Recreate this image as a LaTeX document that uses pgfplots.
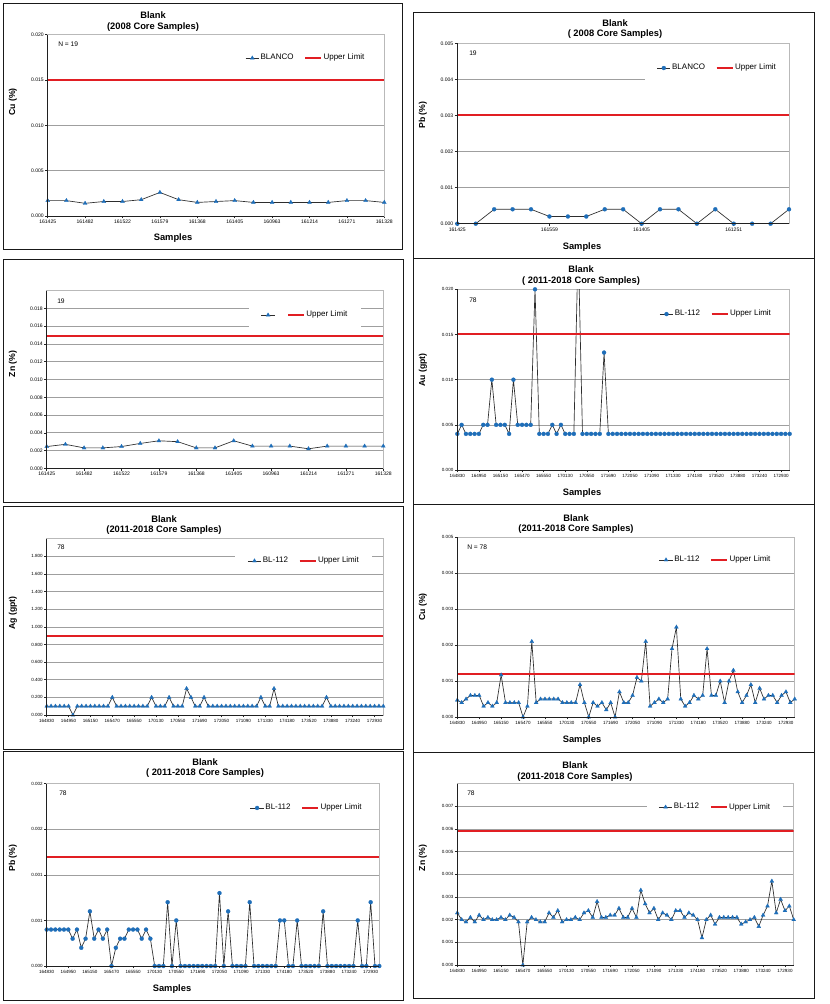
\documentclass[border=0pt]{standalone}
\usepackage{fontspec}
\setmainfont{Liberation Sans}
\usepackage{pgfplots}
\pgfplotsset{compat=1.18}
\usepackage{pgfplotstable}

\definecolor{serblue}{RGB}{30,110,185}
\definecolor{limred}{RGB}{225,30,35}
\definecolor{serline}{RGB}{45,45,45}

\newcommand{\tfont}{\fontsize{7}{8}\selectfont\bfseries}
\newcommand{\yfont}{\fontsize{6.5}{8}\selectfont\bfseries}
\newcommand{\lfont}{\fontsize{6}{7}\selectfont}
\newcommand{\afont}{\fontsize{5}{6}\selectfont}
\newcommand{\tkA}{\fontsize{3.8}{4.5}\selectfont}
\newcommand{\tkB}{\fontsize{3.4}{4}\selectfont}

% ---------------- data ----------------
\pgfplotstableread[row sep=\\]{x y\\
0 0.0017\\ 1 0.0017\\ 2 0.0014\\ 3 0.0016\\ 4 0.0016\\ 5 0.0018\\ 6 0.0026\\ 7 0.0018\\ 8 0.0015\\ 9 0.0016\\
10 0.0017\\ 11 0.0015\\ 12 0.0015\\ 13 0.0015\\ 14 0.0015\\ 15 0.0015\\ 16 0.0017\\ 17 0.0017\\ 18 0.0015\\
}\tCuA

\pgfplotstableread[row sep=\\]{x y\\
0 0\\ 1 0\\ 2 0.0004\\ 3 0.0004\\ 4 0.0004\\ 5 0.0002\\ 6 0.0002\\ 7 0.0002\\ 8 0.0004\\ 9 0.0004\\
10 0\\ 11 0.0004\\ 12 0.0004\\ 13 0\\ 14 0.0004\\ 15 0\\ 16 0\\ 17 0\\ 18 0.0004\\
}\tPbA

\pgfplotstableread[row sep=\\]{x y\\
0 0.00245\\ 1 0.0027\\ 2 0.0023\\ 3 0.0023\\ 4 0.00245\\ 5 0.0028\\ 6 0.0031\\ 7 0.0030\\ 8 0.0023\\ 9 0.0023\\
10 0.0031\\ 11 0.0025\\ 12 0.0025\\ 13 0.0025\\ 14 0.0022\\ 15 0.0025\\ 16 0.0025\\ 17 0.0025\\ 18 0.0025\\
}\tZnA

\pgfplotstableread[row sep=\\]{x y\\
0 0.004\\ 1 0.005\\ 2 0.004\\ 3 0.004\\ 4 0.004\\ 5 0.004\\ 6 0.005\\ 7 0.005\\ 8 0.010\\ 9 0.005\\
10 0.005\\ 11 0.005\\ 12 0.004\\ 13 0.010\\ 14 0.005\\ 15 0.005\\ 16 0.005\\ 17 0.005\\ 18 0.020\\ 19 0.004\\
20 0.004\\ 21 0.004\\ 22 0.005\\ 23 0.004\\ 24 0.005\\ 25 0.004\\ 26 0.004\\ 27 0.004\\ 28 0.025\\ 29 0.004\\
30 0.004\\ 31 0.004\\ 32 0.004\\ 33 0.004\\ 34 0.013\\ 35 0.004\\ 36 0.004\\ 37 0.004\\ 38 0.004\\ 39 0.004\\
40 0.004\\ 41 0.004\\ 42 0.004\\ 43 0.004\\ 44 0.004\\ 45 0.004\\ 46 0.004\\ 47 0.004\\ 48 0.004\\ 49 0.004\\
50 0.004\\ 51 0.004\\ 52 0.004\\ 53 0.004\\ 54 0.004\\ 55 0.004\\ 56 0.004\\ 57 0.004\\ 58 0.004\\ 59 0.004\\
60 0.004\\ 61 0.004\\ 62 0.004\\ 63 0.004\\ 64 0.004\\ 65 0.004\\ 66 0.004\\ 67 0.004\\ 68 0.004\\ 69 0.004\\
70 0.004\\ 71 0.004\\ 72 0.004\\ 73 0.004\\ 74 0.004\\ 75 0.004\\ 76 0.004\\ 77 0.004\\
}\tAu

\pgfplotstableread[row sep=\\]{x y\\
0 0.1\\ 1 0.1\\ 2 0.1\\ 3 0.1\\ 4 0.1\\ 5 0.1\\ 6 0\\ 7 0.1\\ 8 0.1\\ 9 0.1\\
10 0.1\\ 11 0.1\\ 12 0.1\\ 13 0.1\\ 14 0.1\\ 15 0.2\\ 16 0.1\\ 17 0.1\\ 18 0.1\\ 19 0.1\\
20 0.1\\ 21 0.1\\ 22 0.1\\ 23 0.1\\ 24 0.2\\ 25 0.1\\ 26 0.1\\ 27 0.1\\ 28 0.2\\ 29 0.1\\
30 0.1\\ 31 0.1\\ 32 0.3\\ 33 0.2\\ 34 0.1\\ 35 0.1\\ 36 0.2\\ 37 0.1\\ 38 0.1\\ 39 0.1\\
40 0.1\\ 41 0.1\\ 42 0.1\\ 43 0.1\\ 44 0.1\\ 45 0.1\\ 46 0.1\\ 47 0.1\\ 48 0.1\\ 49 0.2\\
50 0.1\\ 51 0.1\\ 52 0.3\\ 53 0.1\\ 54 0.1\\ 55 0.1\\ 56 0.1\\ 57 0.1\\ 58 0.1\\ 59 0.1\\
60 0.1\\ 61 0.1\\ 62 0.1\\ 63 0.1\\ 64 0.2\\ 65 0.1\\ 66 0.1\\ 67 0.1\\ 68 0.1\\ 69 0.1\\
70 0.1\\ 71 0.1\\ 72 0.1\\ 73 0.1\\ 74 0.1\\ 75 0.1\\ 76 0.1\\ 77 0.1\\
}\tAg

\pgfplotstableread[row sep=\\]{x y\\
0 0.00047\\ 1 0.0004\\ 2 0.0005\\ 3 0.0006\\ 4 0.0006\\ 5 0.0006\\ 6 0.0003\\ 7 0.0004\\ 8 0.0003\\ 9 0.0004\\
10 0.00117\\ 11 0.0004\\ 12 0.0004\\ 13 0.0004\\ 14 0.0004\\ 15 0\\ 16 0.0003\\ 17 0.0021\\ 18 0.0004\\ 19 0.0005\\
20 0.0005\\ 21 0.0005\\ 22 0.0005\\ 23 0.0005\\ 24 0.0004\\ 25 0.0004\\ 26 0.0004\\ 27 0.0004\\ 28 0.0009\\ 29 0.0004\\
30 0\\ 31 0.0004\\ 32 0.0003\\ 33 0.0004\\ 34 0.0002\\ 35 0.0004\\ 36 0\\ 37 0.0007\\ 38 0.0004\\ 39 0.0004\\
40 0.0006\\ 41 0.0011\\ 42 0.0010\\ 43 0.0021\\ 44 0.0003\\ 45 0.0004\\ 46 0.0005\\ 47 0.0004\\ 48 0.0005\\ 49 0.0019\\
50 0.0025\\ 51 0.0005\\ 52 0.0003\\ 53 0.0004\\ 54 0.0006\\ 55 0.0005\\ 56 0.0006\\ 57 0.0019\\ 58 0.0006\\ 59 0.0006\\
60 0.0010\\ 61 0.0004\\ 62 0.0010\\ 63 0.0013\\ 64 0.0007\\ 65 0.0004\\ 66 0.0006\\ 67 0.0009\\ 68 0.0004\\ 69 0.0008\\
70 0.0005\\ 71 0.0006\\ 72 0.0006\\ 73 0.0004\\ 74 0.0006\\ 75 0.0007\\ 76 0.0004\\ 77 0.0005\\
}\tCuB

\pgfplotstableread[row sep=\\]{x y\\
0 0.0004\\ 1 0.0004\\ 2 0.0004\\ 3 0.0004\\ 4 0.0004\\ 5 0.0004\\ 6 0.0003\\ 7 0.0004\\ 8 0.0002\\ 9 0.0003\\
10 0.0006\\ 11 0.0003\\ 12 0.0004\\ 13 0.0003\\ 14 0.0004\\ 15 0\\ 16 0.0002\\ 17 0.0003\\ 18 0.0003\\ 19 0.0004\\
20 0.0004\\ 21 0.0004\\ 22 0.0003\\ 23 0.0004\\ 24 0.0003\\ 25 0\\ 26 0\\ 27 0\\ 28 0.0007\\ 29 0\\
30 0.0005\\ 31 0\\ 32 0\\ 33 0\\ 34 0\\ 35 0\\ 36 0\\ 37 0\\ 38 0\\ 39 0\\
40 0.0008\\ 41 0\\ 42 0.0006\\ 43 0\\ 44 0\\ 45 0\\ 46 0\\ 47 0.0007\\ 48 0\\ 49 0\\
50 0\\ 51 0\\ 52 0\\ 53 0\\ 54 0.0005\\ 55 0.0005\\ 56 0\\ 57 0\\ 58 0.0005\\ 59 0\\
60 0\\ 61 0\\ 62 0\\ 63 0\\ 64 0.0006\\ 65 0\\ 66 0\\ 67 0\\ 68 0\\ 69 0\\
70 0\\ 71 0\\ 72 0.0005\\ 73 0\\ 74 0\\ 75 0.0007\\ 76 0\\ 77 0\\
}\tPbB

\pgfplotstableread[row sep=\\]{x y\\
0 0.0023\\ 1 0.0020\\ 2 0.0019\\ 3 0.0021\\ 4 0.0019\\ 5 0.0022\\ 6 0.0020\\ 7 0.0021\\ 8 0.0020\\ 9 0.0020\\
10 0.0021\\ 11 0.0020\\ 12 0.0022\\ 13 0.0021\\ 14 0.0019\\ 15 0\\ 16 0.0019\\ 17 0.0021\\ 18 0.0020\\ 19 0.0019\\
20 0.0019\\ 21 0.0023\\ 22 0.0021\\ 23 0.0024\\ 24 0.0019\\ 25 0.0020\\ 26 0.0020\\ 27 0.0021\\ 28 0.0020\\ 29 0.0023\\
30 0.0024\\ 31 0.0021\\ 32 0.0028\\ 33 0.0021\\ 34 0.0021\\ 35 0.0022\\ 36 0.0022\\ 37 0.0025\\ 38 0.0021\\ 39 0.0021\\
40 0.0025\\ 41 0.0021\\ 42 0.0033\\ 43 0.0027\\ 44 0.0023\\ 45 0.0025\\ 46 0.0020\\ 47 0.0023\\ 48 0.0022\\ 49 0.0020\\
50 0.0024\\ 51 0.0024\\ 52 0.0021\\ 53 0.0023\\ 54 0.0022\\ 55 0.0020\\ 56 0.0012\\ 57 0.0020\\ 58 0.0022\\ 59 0.0018\\
60 0.0021\\ 61 0.0021\\ 62 0.0021\\ 63 0.0021\\ 64 0.0021\\ 65 0.0018\\ 66 0.0019\\ 67 0.0020\\ 68 0.0021\\ 69 0.0017\\
70 0.0022\\ 71 0.0026\\ 72 0.0037\\ 73 0.0023\\ 74 0.0029\\ 75 0.0024\\ 76 0.0026\\ 77 0.0020\\
}\tZnB

\pgfplotsset{
  panel/.style={
    scale only axis, xmin=0, ymin=0, anchor=north west,
    scaled y ticks=false, scaled x ticks=false,
    axis line style={draw=gray!55, line width=0.7pt},
    ymajorgrids, major grid style={draw=gray!75, line width=0.5pt},
    tick pos=left, tick align=outside, major tick length=1.8pt,
    tick style={draw=gray!30!black, line width=0.4pt},
    every tick label/.append style={inner sep=1pt},
    legend columns=2,
    legend style={draw=none, fill=white, font=\lfont, anchor=center,
      inner xsep=9pt, inner ysep=5pt, nodes={inner sep=1pt},
      /tikz/every even column/.append style={column sep=7pt}},
    /pgf/number format/assume math mode=true,
    after end axis/.code={\draw[gray!25!black, line width=0.6pt] (rel axis cs:0,1) -- (rel axis cs:0,0) -- (rel axis cs:1,0);},
  },
  ser/.style={color=serline, line width=0.5pt, mark=triangle*, mark size=1.7pt,
    mark options={draw=serblue, fill=serblue, line width=0.2pt},
    legend image code/.code={\draw[##1, mark repeat=2, mark phase=2] plot coordinates {(0pt,0pt) (5pt,0pt) (10pt,0pt)};}},
  serc/.style={ser, mark=*, mark size=1.5pt},
  lim/.style={color=limred, line width=1.5pt, no markers,
    legend image code/.code={\draw[##1] (0pt,0pt) -- (12pt,0pt);}},
  old/.style={xmax=18, yticklabel style={font=\tkA}, xticklabel style={font=\tkA}},
  new/.style={xmax=77, xtick={0,5,...,75},
    xticklabels={164830,164950,165150,165470,165550,170130,170550,171690,172050,171090,171330,174180,173520,173880,173240,172930},
    yticklabel style={font=\tkB}, xticklabel style={font=\tkB}},
}

\begin{document}
\begin{tikzpicture}
\begin{scope}[x=0.75pt,y=-0.75pt]
  \fill[white] (0,0) rectangle (830,1004);
  \useasboundingbox (0,0) rectangle (830,1004);
\end{scope}

% P1 Cu 2008
\begin{axis}[panel, old, at={(35.78pt,-26.03pt)}, width=252.45pt, height=135.98pt,
  ymax=0.02, ytick={0,0.005,0.01,0.015,0.02}, yticklabels={0.000,0.005,0.010,0.015,0.020},
  xtick={0,2,...,18}, xticklabels={161425,161482,161522,161579,161368,161405,160963,161214,161271,161328},
  legend style={at={(axis description cs:0.766,0.871)}}]
\addplot[ser] table[x=x,y=y]{\tCuA}; \addlegendentry{BLANCO}
\addplot[lim] coordinates {(0,0.015) (18,0.015)}; \addlegendentry{Upper Limit}
\end{axis}

% P2 Pb 2008
\begin{axis}[panel, old, at={(342.98pt,-32.48pt)}, width=248.78pt, height=135.3pt,
  ymax=0.005, ytick={0,0.001,0.002,0.003,0.004,0.005}, yticklabels={0.000,0.001,0.002,0.003,0.004,0.005},
  xtick={0,5,10,15}, xticklabels={161425,161559,161405,161251},
  legend style={at={(axis description cs:0.783,0.863)}}]
\addplot[serc] table[x=x,y=y]{\tPbA}; \addlegendentry{BLANCO}
\addplot[lim] coordinates {(0,0.003) (18,0.003)}; \addlegendentry{Upper Limit}
\end{axis}

% P3 Zn 2008
\begin{axis}[panel, old, at={(35.03pt,-218.03pt)}, width=252.45pt, height=133.2pt,
  ymax=0.02, ytick={0,0.002,0.004,0.006,0.008,0.010,0.012,0.014,0.016,0.018},
  yticklabels={0.000,0.002,0.004,0.006,0.008,0.010,0.012,0.014,0.016,0.018},
  xtick={0,2,...,18}, xticklabels={161425,161482,161522,161579,161368,161405,160963,161214,161271,161328},
  legend style={at={(axis description cs:0.767,0.863)}}]
\addplot[ser] table[x=x,y=y]{\tZnA}; \addlegendentry{}
\addplot[lim] coordinates {(0,0.0149) (18,0.0149)}; \addlegendentry{Upper Limit}
\end{axis}

% P4 Au 2011-2018
\begin{axis}[panel, new, at={(342.98pt,-216.98pt)}, width=249.3pt, height=135.53pt,
  ymax=0.02, ytick={0,0.005,0.01,0.015,0.02}, yticklabels={0.000,0.005,0.010,0.015,0.020},
  legend style={at={(axis description cs:0.778,0.863)}}]
\addplot[serc, no markers, forget plot] table[x=x,y=y]{\tAu};
\addplot[serc, only marks, restrict y to domain=0:0.021, forget plot] table[x=x,y=y]{\tAu};
\addlegendimage{serc} \addlegendentry{BL-112}
\addplot[lim] coordinates {(0,0.015) (77,0.015)}; \addlegendentry{Upper Limit}
\end{axis}

% P5 Ag 2011-2018
\begin{axis}[panel, new, at={(35.03pt,-404.03pt)}, width=252.45pt, height=132.23pt,
  ymax=2.0, ytick={0,0.2,0.4,0.6,0.8,1.0,1.2,1.4,1.6,1.8},
  yticklabels={0.000,0.200,0.400,0.600,0.800,1.000,1.200,1.400,1.600,1.800},
  legend style={at={(axis description cs:0.764,0.874)}}]
\addplot[ser] table[x=x,y=y]{\tAg}; \addlegendentry{BL-112}
\addplot[lim] coordinates {(0,0.9) (77,0.9)}; \addlegendentry{Upper Limit}
\end{axis}

% P6 Cu 2011-2018
\begin{axis}[panel, new, at={(342.98pt,-402.98pt)}, width=253.05pt, height=134.78pt,
  ymax=0.005, ytick={0,0.001,0.002,0.003,0.004,0.005}, yticklabels={0.000,0.001,0.002,0.003,0.004,0.005},
  legend style={at={(axis description cs:0.765,0.874)}}]
\addplot[ser] table[x=x,y=y]{\tCuB}; \addlegendentry{BL-112}
\addplot[lim] coordinates {(0,0.0012) (77,0.0012)}; \addlegendentry{Upper Limit}
\end{axis}

% P7 Pb 2011-2018
\begin{axis}[panel, new, at={(35.03pt,-587.78pt)}, width=249.45pt, height=136.73pt,
  ymax=0.002, ytick={0,0.0005,0.001,0.0015,0.002}, yticklabels={0.000,0.001,0.001,0.002,0.002},
  legend style={at={(axis description cs:0.781,0.867)}}]
\addplot[serc] table[x=x,y=y]{\tPbB}; \addlegendentry{BL-112}
\addplot[lim] coordinates {(0,0.0012) (77,0.0012)}; \addlegendentry{Upper Limit}
\end{axis}

% P8 Zn 2011-2018
\begin{axis}[panel, new, at={(342.98pt,-587.78pt)}, width=252.3pt, height=135.98pt,
  ymax=0.008, ytick={0,0.001,0.002,0.003,0.004,0.005,0.006,0.007},
  yticklabels={0.000,0.001,0.002,0.003,0.004,0.005,0.006,0.007},
  legend style={at={(axis description cs:0.766,0.871)}}]
\addplot[ser] table[x=x,y=y]{\tZnB}; \addlegendentry{BL-112}
\addplot[lim] coordinates {(0,0.0059) (77,0.0059)}; \addlegendentry{Upper Limit}
\end{axis}

\begin{scope}[x=0.75pt,y=-0.75pt]
  % frames
  \begin{scope}[draw=gray!20!black, line width=0.7pt]
    \draw (3,3) rectangle (402,249);
    \draw (413,12) rectangle (814,258);
    \draw (3,259) rectangle (403,502);
    \draw (413,258) rectangle (814,504);
    \draw (3,506) rectangle (403,749);
    \draw (413,504) rectangle (814,752);
    \draw (3,751) rectangle (403,1000);
    \draw (413,752) rectangle (814,998);
  \end{scope}
  % titles
  \node[font=\tfont] at (153,15) {Blank};
  \node[font=\tfont] at (153,27) {(2008 Core Samples)};
  \node[font=\tfont] at (615,23) {Blank};
  \node[font=\tfont] at (615,34) {( 2008 Core Samples)};
  \node[font=\tfont] at (581,269) {Blank};
  \node[font=\tfont] at (581,281) {( 2011-2018 Core Samples)};
  \node[font=\tfont] at (164,519) {Blank};
  \node[font=\tfont] at (164,530) {(2011-2018 Core Samples)};
  \node[font=\tfont] at (576,518) {Blank};
  \node[font=\tfont] at (576,529) {(2011-2018 Core Samples)};
  \node[font=\tfont] at (205,762) {Blank};
  \node[font=\tfont] at (205,773) {( 2011-2018 Core Samples)};
  \node[font=\tfont] at (575,765) {Blank};
  \node[font=\tfont] at (575,777) {(2011-2018 Core Samples)};
  % x labels
  \node[font=\tfont] at (173,238) {Samples};
  \node[font=\tfont] at (582,247) {Samples};
  \node[font=\tfont] at (582,493) {Samples};
  \node[font=\tfont] at (582,740) {Samples};
  \node[font=\tfont] at (172,989) {Samples};
  % y labels
  \node[font=\yfont, rotate=90] at (13,102) {Cu (\%)};
  \node[font=\yfont, rotate=90] at (423,115) {Pb (\%)};
  \node[font=\yfont, rotate=90] at (13,364) {Zn (\%)};
  \node[font=\yfont, rotate=90] at (423,370) {Au (gpt)};
  \node[font=\yfont, rotate=90] at (13,613) {Ag (gpt)};
  \node[font=\yfont, rotate=90] at (423,607) {Cu (\%)};
  \node[font=\yfont, rotate=90] at (13,858) {Pb (\%)};
  \node[font=\yfont, rotate=90] at (423,858) {Zn (\%)};
  % annotations
  \node[font=\afont, anchor=west, inner sep=0pt] at (58,44) {N = 19};
  \node[font=\afont, anchor=west, inner sep=0pt] at (469,53) {19};
  \node[font=\afont, anchor=west, inner sep=0pt] at (57,301) {19};
  \node[font=\afont, anchor=west, inner sep=0pt] at (469,300) {78};
  \node[font=\afont, anchor=west, inner sep=0pt] at (57,547) {78};
  \node[font=\afont, anchor=west, inner sep=0pt] at (467,547) {N = 78};
  \node[font=\afont, anchor=west, inner sep=0pt] at (59,793) {78};
  \node[font=\afont, anchor=west, inner sep=0pt] at (467,793) {78};
\end{scope}
\end{tikzpicture}
\end{document}
